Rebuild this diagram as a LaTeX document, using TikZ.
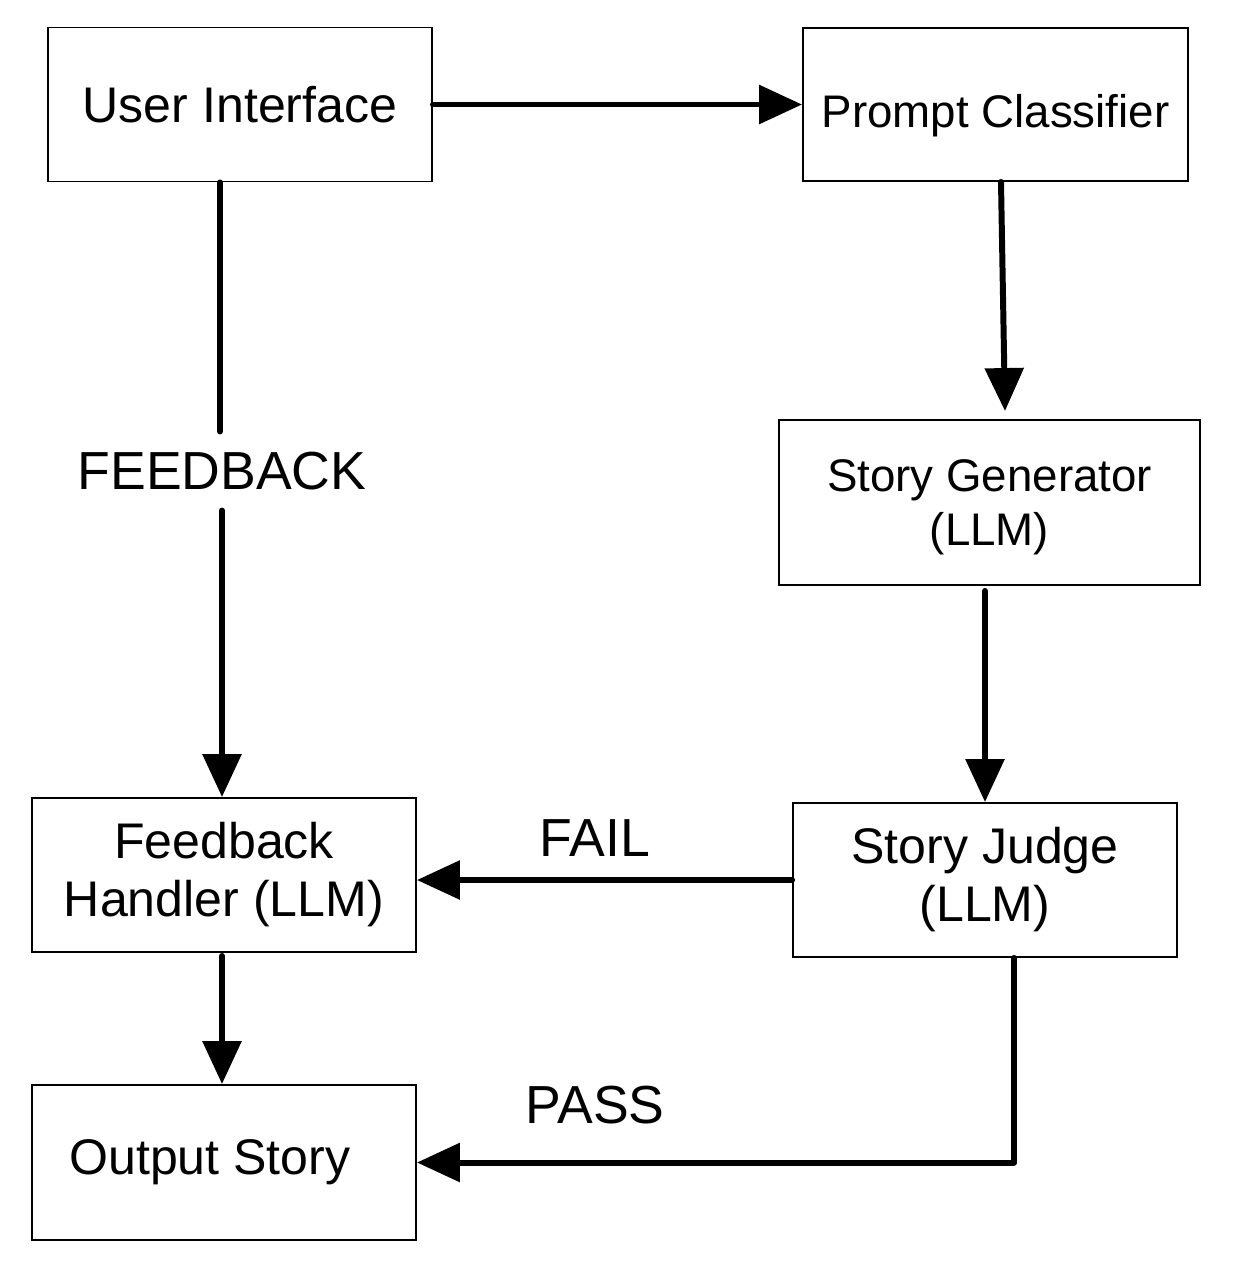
\documentclass[tikz,border=0pt]{standalone}
\usepackage{fontspec}
\setmainfont{Liberation Sans}
\usetikzlibrary{positioning,arrows.meta,calc}

\begin{document}
\begin{tikzpicture}[
  x=0.02cm, y=-0.02cm,
  font=\fontsize{28.5}{33}\selectfont,
  box/.style={rectangle,draw=black,line width=1.1pt,align=center,
              minimum width=7.68cm,minimum height=3.08cm,inner sep=0pt},
  sbox/.style={box,font=\fontsize{26}{31}\selectfont},
  lbl/.style={font=\fontsize{30.5}{36}\selectfont},
  line/.style={line width=3.4pt,line cap=round,line join=round},
  arr/.style={line,-{Triangle[length=0.86cm,width=0.76cm]}},
]
\useasboundingbox (0,0) rectangle (1232,1276);

% left column
\node[box] (ui) at (240,104.5) {User Interface};
\node[box] (fh) at (224,875) {Feedback\\Handler (LLM)};
\node[box,minimum height=3.1cm] (out) at (224,1162.5) {Output Story\hspace*{16pt}};

% right column
\node[sbox,minimum width=7.7cm,minimum height=3.06cm,text height=32pt,text depth=5.5pt]
  (pc) at (995.5,104.5) {Prompt Classifier};
\node[sbox,minimum width=8.42cm,minimum height=3.3cm,text depth=-2pt] (sg) at (989.5,502.5)
  {Story Generator\\(LLM)};
\node[box] (sj) at (985,880) {Story Judge\\(LLM)};

% labels
\node[lbl,inner ysep=11.5pt] (fb) at (222,471) {FEEDBACK};
\node[lbl] (fail) at (595,838) {FAIL};
\node[lbl] (pass) at (595,1105) {PASS};

\coordinate (fbtop) at ($(ui.south)+(-20,0)$);

\draw[arr] (ui.east) -- (pc.west);
\draw[arr] ($(pc.south)+(5.5,0)$) -- ($(sg.north)+(15.5,-8)$);
\draw[arr] ($(sj.north|-sg.south)+(0,5)$) -- (sj.north);
\draw[arr] (sj.west) -- (sj.west-|fh.east);
\draw[line] (fbtop) -- (fbtop|-fb.north);
\draw[arr] (fb.south) -- (fb.south|-fh.north);
\draw[arr] ($(fh.south)+(-2,3)$) -- ($(out.north)+(-2,0)$);
\draw[arr] ($(sj.south)+(29,0)$) |- (out.east);
\end{tikzpicture}
\end{document}
